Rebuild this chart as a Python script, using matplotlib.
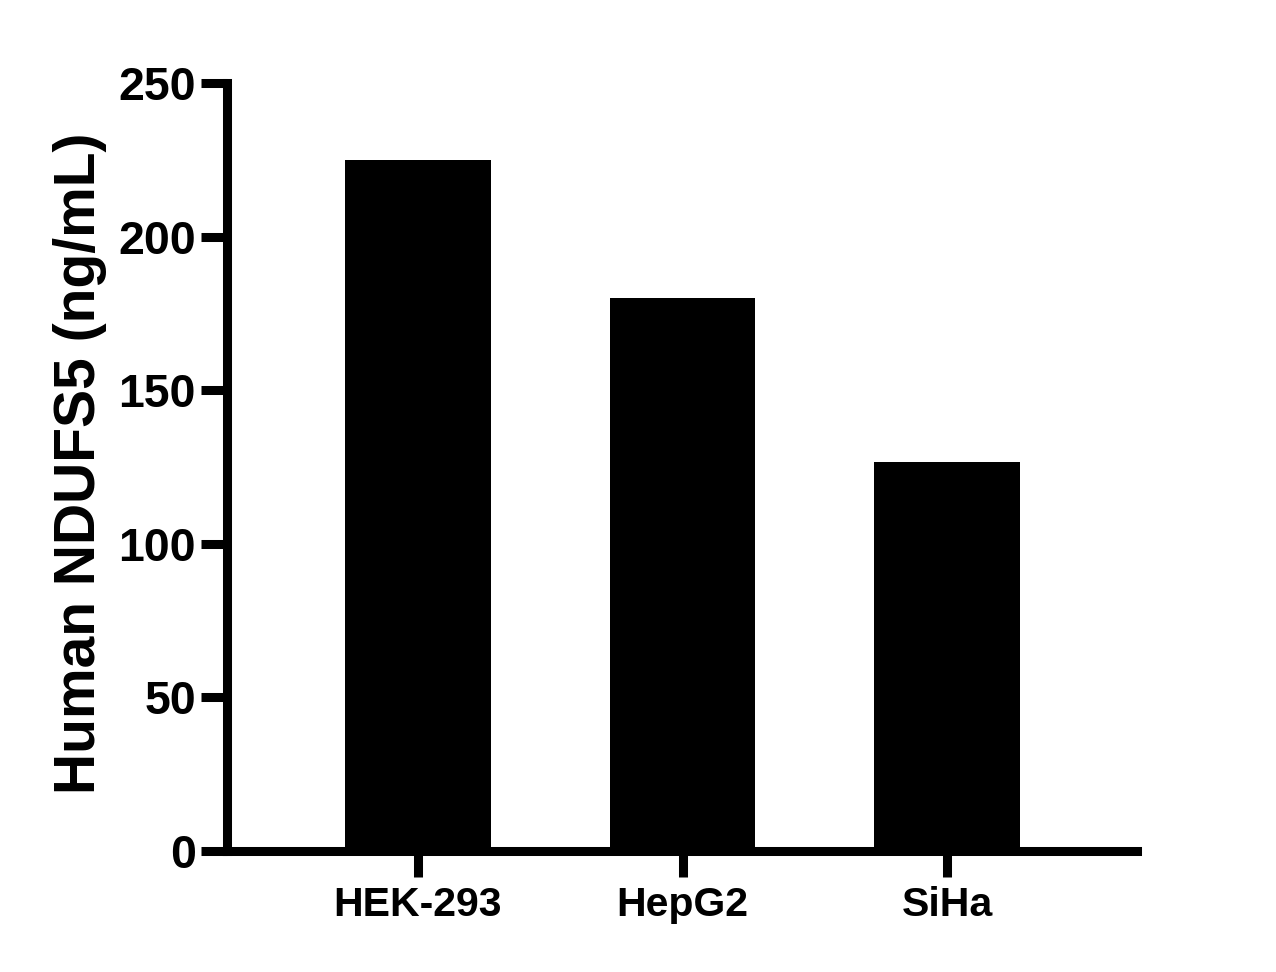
import matplotlib
matplotlib.use('agg')
from matplotlib import pyplot as plt

# data
cells = ['HEK-293', 'HepG2', 'SiHa']
ndufs5 = [225, 180, 126.5]
yticks = [0, 50, 100, 150, 200, 250]

plt.rcParams['font.family'] = ['Liberation Sans', 'DejaVu Sans']
plt.rcParams['font.weight'] = 'bold'

fig = plt.figure(figsize=(12.76, 9.72), dpi=100)
ax = fig.add_axes([227/1276, 121/972, (1137-227)/1276, 768/972])

xs = list(range(len(cells)))
ax.bar(xs, ndufs5, width=0.55, color='black', zorder=3)

ax.set_xlim(-0.722, 2.718)
ax.set_ylim(0, 250)
ax.set_xticks(xs)
ax.set_xticklabels(cells)
ax.set_yticks(yticks)

for side in ['top', 'right']:
    ax.spines[side].set_visible(False)
for side in ['left', 'bottom']:
    ax.spines[side].set_linewidth(6.5)

ax.tick_params(axis='both', width=6.5, length=19, color='black')
ax.tick_params(axis='y', pad=3.5, labelsize=33.5)
ax.tick_params(axis='x', pad=6, labelsize=29.5)
for lab in ax.get_xticklabels() + ax.get_yticklabels():
    lab.set_fontweight('bold')

ax.set_ylabel('Human NDUFS5 (ng/mL)', fontsize=41, fontweight='bold')
ax.yaxis.label.set_va('center')
ax.yaxis.set_label_coords(-0.161, 0.505)

fig.savefig('out.png', dpi=100)
